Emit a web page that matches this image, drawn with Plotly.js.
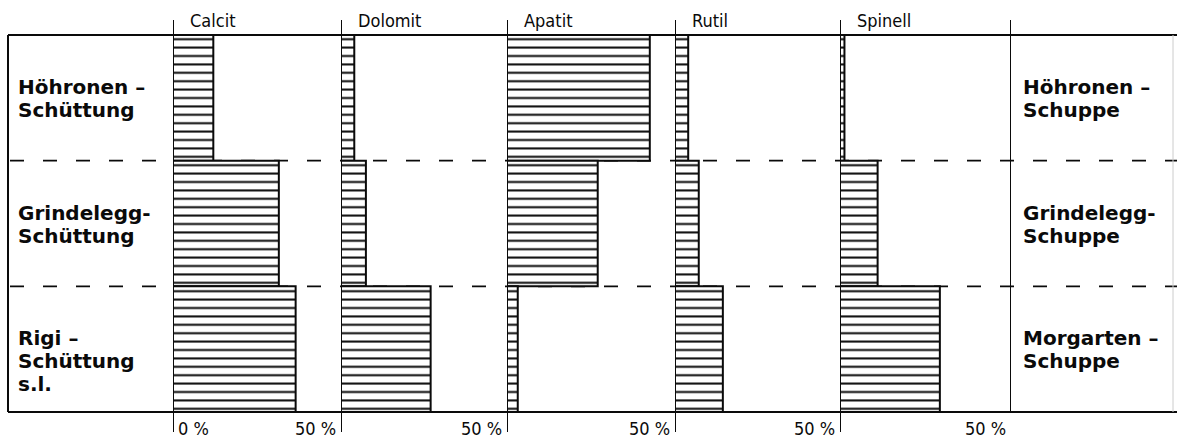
<!DOCTYPE html>
<html><head><meta charset="utf-8">
<script src="https://cdn.plot.ly/plotly-3.0.1.min.js"></script>
<style>html,body{margin:0;padding:0;background:#fff}</style>
</head><body><div id="chart" style="width:1177px;height:439px"></div>
<script>
// ---- data (percent) ----
const minerals = ['Calcit', 'Dolomit', 'Apatit', 'Rutil', 'Spinell'];
const groups = ['Höhronen', 'Grindelegg', 'Rigi'];
const calcit  = [12, 31.5, 36.5];
const dolomit = [4, 7.5, 27];
const apatit  = [42.5, 27, 3.2];
const rutil   = [4, 7.2, 14.5];
const spinell = [1.3, 11, 29.2];
const leftLabels  = ['Höhronen –<br>Schüttung', 'Grindelegg-<br>Schüttung', 'Rigi –<br>Schüttung<br>s.l.'];
const rightLabels = ['Höhronen –<br>Schuppe', 'Grindelegg-<br>Schuppe', 'Morgarten –<br>Schuppe'];
const tickLabels = ['0 %', '50 %'];

const series = [calcit, dolomit, apatit, rutil, spinell];

// ---- geometry (px) ----
const W = 1177, H = 439;
const px = x => x / W, py = y => 1 - y / H;
const base = [173, 341, 507, 675, 840, 1011];
const frameTop = 35, frameBot = 412, frameL = 8;
const ink = '#0a0a0a';

const titleFont = {family: 'DejaVu Sans Condensed, Liberation Sans Narrow, sans-serif', size: 18, color: ink};
const labFont = {family: 'DejaVu Sans, sans-serif', size: 20, color: ink, weight: 700};

const data = [];
const layout = {
  width: W, height: H,
  margin: {l: 0, r: 0, t: 0, b: 0},
  paper_bgcolor: '#fff', plot_bgcolor: 'rgba(0,0,0,0)',
  showlegend: false, bargap: 0,
  yaxis: {domain: [py(frameBot), py(frameTop)], type: 'category', categoryorder: 'array', categoryarray: groups,
          autorange: 'reversed', showticklabels: false, showgrid: false, zeroline: false, showline: false, ticks: '', anchor: 'x'},
  shapes: [], annotations: []
};

series.forEach((vals, i) => {
  const ax = i === 0 ? 'x' : 'x' + (i + 1);
  const key = i === 0 ? 'xaxis' : 'xaxis' + (i + 1);
  layout[key] = {domain: [px(base[i]), px(base[i + 1])], range: [0, 50], showticklabels: false,
                 showgrid: false, zeroline: false, showline: false, ticks: '', anchor: 'y', fixedrange: true};
  data.push({
    type: 'bar', orientation: 'h', x: vals, y: groups, xaxis: ax, yaxis: 'y',
    marker: {color: 'white', line: {color: ink, width: 2},
             pattern: {shape: '-', size: 8.4, solidity: 0.24, fgcolor: ink, bgcolor: 'white', fillmode: 'replace'}},
    hoverinfo: 'skip'
  });
  // 0 % baseline of each panel, with tick marks above and below the frame
  layout.shapes.push({type: 'line', xref: ax, yref: 'paper', x0: 0, x1: 0, y0: py(432), y1: py(20),
                      line: {color: ink, width: 2}, layer: 'above'});
  // column title
  layout.annotations.push({xref: ax, yref: 'paper', x: 0, y: py(21), xshift: 15, xanchor: 'left', yanchor: 'middle',
                           text: minerals[i], showarrow: false, font: titleFont});
  // 50 % label
  layout.annotations.push({xref: ax, yref: 'paper', x: 50, y: py(428), xshift: -3, xanchor: 'right', yanchor: 'middle',
                           text: tickLabels[1], showarrow: false, font: titleFont});
});
// 0 % label
layout.annotations.push({xref: 'x', yref: 'paper', x: 0, y: py(428), xshift: 3, xanchor: 'left', yanchor: 'middle',
                         text: tickLabels[0], showarrow: false, font: titleFont});
// right border of last panel
layout.shapes.push({type: 'line', xref: 'x5', yref: 'paper', x0: 50, x1: 50, y0: py(frameBot), y1: py(20),
                    line: {color: ink, width: 2}});
// frame
layout.shapes.push({type: 'line', xref: 'paper', yref: 'paper', x0: px(frameL), x1: 1, y0: py(frameTop), y1: py(frameTop), line: {color: ink, width: 2}});
layout.shapes.push({type: 'line', xref: 'paper', yref: 'paper', x0: px(frameL), x1: 1, y0: py(frameBot), y1: py(frameBot), line: {color: ink, width: 2}});
layout.shapes.push({type: 'line', xref: 'paper', yref: 'paper', x0: px(frameL), x1: px(frameL), y0: py(frameBot), y1: py(frameTop), line: {color: ink, width: 2}});
layout.shapes.push({type: 'line', xref: 'paper', yref: 'paper', x0: px(1173), x1: px(1173), y0: py(frameBot), y1: py(frameTop), line: {color: '#ccc', width: 1}});
// dashed group separators (under the bars)
[0.5, 1.5].forEach(v => {
  layout.shapes.push({type: 'line', xref: 'paper', yref: 'y', x0: px(frameL + 2), x1: 1, y0: v, y1: v, layer: 'below',
                      line: {color: ink, width: 1.8, dash: '14px,19px'}});
});
// group labels, one annotation per line
const lineGap = 23;
groups.forEach((g, gi) => {
  const gTop = frameTop + gi * (frameBot - frameTop) / 3;
  [[leftLabels[gi], 17], [rightLabels[gi], 1022]].forEach(([lab, x]) => {
    lab.split('<br>').forEach((ln, li) => {
      layout.annotations.push({xref: 'paper', yref: 'paper', x: px(x), y: py(gTop + 65 + li * lineGap),
                               xanchor: 'left', yanchor: 'bottom', text: ln, showarrow: false, font: labFont,
                               borderpad: 0});
    });
  });
});

Plotly.newPlot('chart', data, layout, {staticPlot: true, displayModeBar: false});
</script></body></html>
